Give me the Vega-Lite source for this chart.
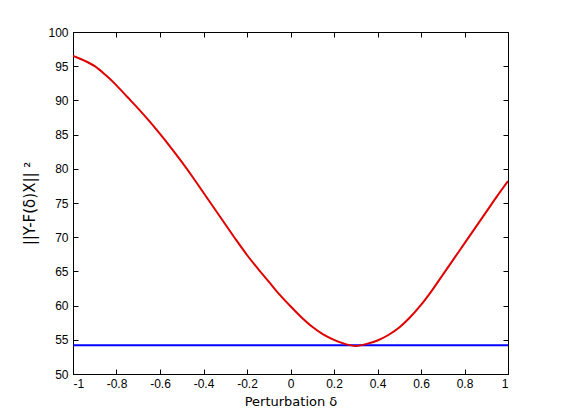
{
  "$schema": "https://vega.github.io/schema/vega-lite/v6.json",
  "width": 435,
  "height": 342,
  "autosize": {"type": "none"},
  "padding": {"left": 73, "top": 32, "right": 53, "bottom": 46},
  "background": "white",
  "config": {
    "view": {"stroke": "black", "strokeWidth": 1},
    "axis": {
      "domainColor": "black",
      "tickColor": "black",
      "labelColor": "black",
      "titleColor": "black",
      "labelFont": "Liberation Sans",
      "titleFont": "DejaVu Sans",
      "labelFontSize": 12,
      "grid": false,
      "tickSize": 5,
      "titleFontWeight": "normal"
    }
  },
  "datasets": {
    "curve": [
      {"d": -1.00, "v": 96.5}, {"d": -0.95, "v": 95.85}, {"d": -0.90, "v": 95.0},
      {"d": -0.85, "v": 93.7}, {"d": -0.80, "v": 92.2}, {"d": -0.75, "v": 90.5},
      {"d": -0.70, "v": 88.8}, {"d": -0.65, "v": 87.0}, {"d": -0.60, "v": 85.1},
      {"d": -0.55, "v": 83.1}, {"d": -0.50, "v": 81.0}, {"d": -0.45, "v": 78.8},
      {"d": -0.40, "v": 76.5}, {"d": -0.35, "v": 74.2}, {"d": -0.30, "v": 71.9},
      {"d": -0.25, "v": 69.6}, {"d": -0.20, "v": 67.4}, {"d": -0.15, "v": 65.4},
      {"d": -0.10, "v": 63.5}, {"d": -0.05, "v": 61.6}, {"d": 0.00, "v": 59.9},
      {"d": 0.05, "v": 58.3}, {"d": 0.10, "v": 56.9}, {"d": 0.15, "v": 55.8},
      {"d": 0.20, "v": 55.0}, {"d": 0.25, "v": 54.4}, {"d": 0.30, "v": 54.1},
      {"d": 0.35, "v": 54.4}, {"d": 0.40, "v": 54.9}, {"d": 0.45, "v": 55.7},
      {"d": 0.50, "v": 56.8}, {"d": 0.55, "v": 58.3}, {"d": 0.60, "v": 60.1},
      {"d": 0.65, "v": 62.2}, {"d": 0.70, "v": 64.5}, {"d": 0.75, "v": 66.8},
      {"d": 0.80, "v": 69.1}, {"d": 0.85, "v": 71.4}, {"d": 0.90, "v": 73.7},
      {"d": 0.95, "v": 76.0}, {"d": 1.00, "v": 78.2}
    ],
    "flat": [{"d": -1, "v": 54.2}, {"d": 1, "v": 54.2}]
  },
  "layer": [
    {
      "data": {"name": "flat"},
      "mark": {"type": "line", "color": "#0000ff", "strokeWidth": 2, "clip": true},
      "encoding": {
        "x": {"field": "d", "type": "quantitative", "scale": {"domain": [-1, 1], "nice": false},
              "axis": {"orient": "top", "offset": -5, "labels": false, "title": null, "values": [-1,-0.8,-0.6,-0.4,-0.2,0,0.2,0.4,0.6,0.8,1], "domain": false}},
        "y": {"field": "v", "type": "quantitative", "scale": {"domain": [50, 100], "nice": false, "zero": false},
              "axis": {"orient": "right", "offset": -5, "labels": false, "title": null, "values": [50,55,60,65,70,75,80,85,90,95,100], "domain": false}}
      }
    },
    {
      "data": {"name": "flat"},
      "mark": {"type": "line", "opacity": 0, "clip": true},
      "encoding": {
        "x": {"field": "d", "type": "quantitative", "scale": {"domain": [-1, 1], "nice": false},
              "axis": {"orient": "bottom", "offset": -5, "labels": false, "title": null, "values": [-1,-0.8,-0.6,-0.4,-0.2,0,0.2,0.4,0.6,0.8,1], "domain": false}},
        "y": {"field": "v", "type": "quantitative", "scale": {"domain": [50, 100], "nice": false, "zero": false},
              "axis": {"orient": "left", "offset": -5, "labels": false, "title": null, "values": [50,55,60,65,70,75,80,85,90,95,100], "domain": false}}
      }
    },
    {
      "data": {"name": "curve"},
      "mark": {"type": "line", "color": "#e00000", "strokeWidth": 2, "clip": true, "interpolate": "monotone"},
      "encoding": {
        "x": {"field": "d", "type": "quantitative", "scale": {"domain": [-1, 1], "nice": false},
              "axis": {"orient": "bottom", "ticks": false, "title": "Perturbation δ", "titleFontSize": 13, "titlePadding": 6, "labelPadding": 4,
                       "values": [-1,-0.8,-0.6,-0.4,-0.2,0,0.2,0.4,0.6,0.8,1],
                       "labelExpr": "replace(format(datum.value, '~g'), '\u2212', '-')"}},
        "y": {"field": "v", "type": "quantitative", "scale": {"domain": [50, 100], "nice": false, "zero": false},
              "axis": {"orient": "left", "ticks": false, "title": "||Y-F(δ)X|| ²", "titleFontSize": 15, "titlePadding": 10, "labelPadding": 5,
                       "values": [50,55,60,65,70,75,80,85,90,95,100]}}
      }
    }
  ],
  "resolve": {"axis": {"x": "independent", "y": "independent"}}
}
